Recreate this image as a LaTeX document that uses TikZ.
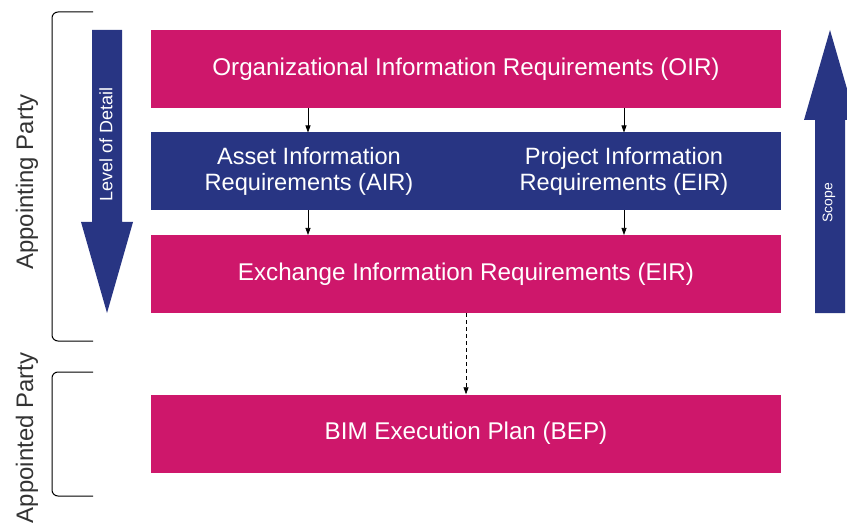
\documentclass[tikz,border=0pt]{standalone}
\usepackage{fontspec}
\setmainfont{Liberation Sans}
\usetikzlibrary{arrows.meta,positioning}
\definecolor{mag}{RGB}{206,23,107}
\definecolor{navy}{RGB}{40,53,131}
\tikzset{
  box/.style={draw=none,minimum width=630bp,minimum height=78bp,inner sep=0pt,text=white,font=\fontsize{24.3}{26}\selectfont,align=center},
  magbox/.style={box,fill=mag},
  bluebox/.style={box,fill=navy},
  lbl/.style={font=\fontsize{23.7}{25.5}\selectfont,align=center,text=white},
  small/.style={-{Triangle[length=7bp,width=5bp]},line width=0.7bp,black},
  brk/.style={line width=1bp,black,rounded corners=6bp},
  side/.style={font=\fontsize{24}{26}\selectfont,rotate=90,text=black!80},
  bigarrow/.style={fill=navy,draw=none}
}
\begin{document}
\begin{tikzpicture}[x=1bp,y=-1bp]
\useasboundingbox (0,0) rectangle (847,524);
% boxes
\node[magbox] (oir) at (466,69.5) {Organizational Information Requirements (OIR)};
\node[bluebox] (mid) at (466,171.5) {};
\node[lbl] (air) at (309,171.5) {Asset Information\\Requirements (AIR)};
\node[lbl] (pir) at (624,171.5) {Project Information\\Requirements (EIR)};
\node[magbox] (eir) at (466,274) {Exchange Information Requirements (EIR)};
\node[magbox] (bep) at (466,433.5) {BIM Execution Plan (BEP)};
% small arrows
\coordinate (a1) at (308,108.5);
\coordinate (a2) at (308,132.5);
\coordinate (b1) at (624,108.5);
\coordinate (b2) at (624,132.5);
\coordinate (c1) at (308,210.5);
\coordinate (c2) at (308,235);
\coordinate (d1) at (624,210.5);
\coordinate (d2) at (624,235);
\draw[small] (a1) -- (a2);
\draw[small] (b1) -- (b2);
\draw[small] (c1) -- (c2);
\draw[small] (d1) -- (d2);
\draw[small,dash pattern=on 4bp off 3bp] (eir.south) -- (bep.north);
% level of detail arrow
\fill[bigarrow] (92,30) -- (122,30) -- (122,222) -- (133,222) -- (107,313) -- (81,222) -- (92,222) -- cycle;
\node[font=\fontsize{18}{20}\selectfont,text=white,rotate=90] (lod) at (106,144.5) {Level of Detail};
% scope arrow
\fill[bigarrow] (815,313) -- (845,313) -- (845,120) -- (856,120) -- (830,30) -- (804,120) -- (815,120) -- cycle;
\node[font=\fontsize{14}{16}\selectfont,text=white,rotate=90] (scope) at (829,203) {Scope};
% brackets
\draw[brk] (93,12) -- (52,12) -- (52,341) -- (93,341);
\draw[brk] (93,372) -- (52,372) -- (52,496) -- (93,496);
\node[side] (ap1) at (27,182) {Appointing Party};
\node[side] (ap2) at (27,438) {Appointed Party};
\end{tikzpicture}
\end{document}
